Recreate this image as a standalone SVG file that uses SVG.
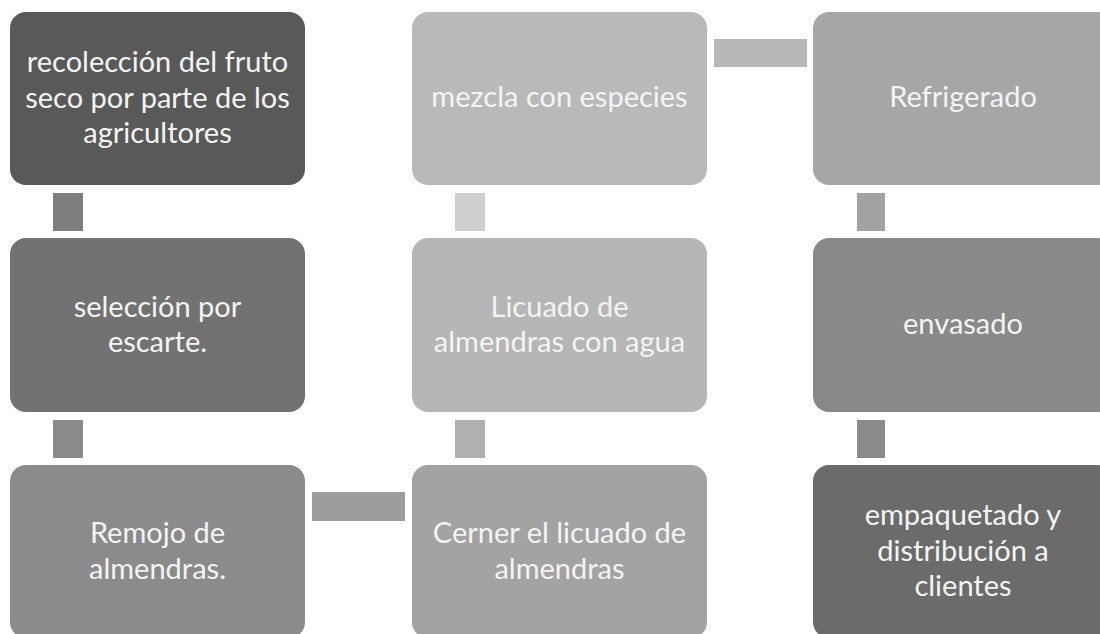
<svg xmlns="http://www.w3.org/2000/svg" width="1100" height="634" viewBox="0 0 1100 634">
<style>
.box{rx:16px;ry:16px}
.t{font-family:Lato,"Liberation Sans",sans-serif;font-size:29px;fill:#f4f4f4;text-anchor:middle}
</style>
<rect width="1100" height="634" fill="#ffffff"/>
<g id="connectors">
<rect x="53" y="193" width="30" height="38" fill="#7e7e7e"/>
<rect x="53" y="420" width="30" height="38" fill="#8a8a8a"/>
<rect x="312" y="492" width="93" height="29" fill="#9c9c9c"/>
<rect x="455" y="420" width="30" height="38" fill="#b0b0b0"/>
<rect x="455" y="193" width="30" height="38" fill="#cfcfcf"/>
<rect x="714" y="39" width="93" height="28" fill="#b7b7b7"/>
<rect x="857" y="193" width="28" height="38" fill="#a2a2a2"/>
<rect x="857" y="420" width="28" height="38" fill="#8a8a8a"/>
</g>
<g id="n1"><rect class="box" x="10" y="12" width="295" height="173" fill="#595959"/>
<text class="t" x="157.5" y="72">recolección del fruto</text>
<text class="t" x="157.5" y="108">seco por parte de los</text>
<text class="t" x="157.5" y="143">agricultores</text></g>
<g id="n2"><rect class="box" x="10" y="238" width="295" height="174" fill="#727272"/>
<text class="t" x="157.5" y="317">selección por</text>
<text class="t" x="157.5" y="352">escarte.</text></g>
<g id="n3"><rect class="box" x="10" y="465" width="295" height="173" fill="#8b8b8b"/>
<text class="t" x="157.5" y="543">Remojo de</text>
<text class="t" x="157.5" y="579">almendras.</text></g>
<g id="n4"><rect class="box" x="412" y="465" width="295" height="173" fill="#a3a3a3"/>
<text class="t" x="559.5" y="543">Cerner el licuado de</text>
<text class="t" x="559.5" y="579">almendras</text></g>
<g id="n5"><rect class="box" x="412" y="238" width="295" height="174" fill="#b6b6b6"/>
<text class="t" x="559.5" y="317">Licuado de</text>
<text class="t" x="559.5" y="352">almendras con agua</text></g>
<g id="n6"><rect class="box" x="412" y="12" width="295" height="173" fill="#b9b9b9"/>
<text class="t" x="559.5" y="107">mezcla con especies</text></g>
<g id="n7"><rect class="box" x="813" y="12" width="300" height="173" fill="#a6a6a6"/>
<text class="t" x="963" y="107">Refrigerado</text></g>
<g id="n8"><rect class="box" x="813" y="238" width="300" height="174" fill="#898989"/>
<text class="t" x="963" y="334">envasado</text></g>
<g id="n9"><rect class="box" x="813" y="465" width="300" height="173" fill="#6b6b6b"/>
<text class="t" x="963" y="525">empaquetado y</text>
<text class="t" x="963" y="561">distribución a</text>
<text class="t" x="963" y="596">clientes</text></g>
</svg>
